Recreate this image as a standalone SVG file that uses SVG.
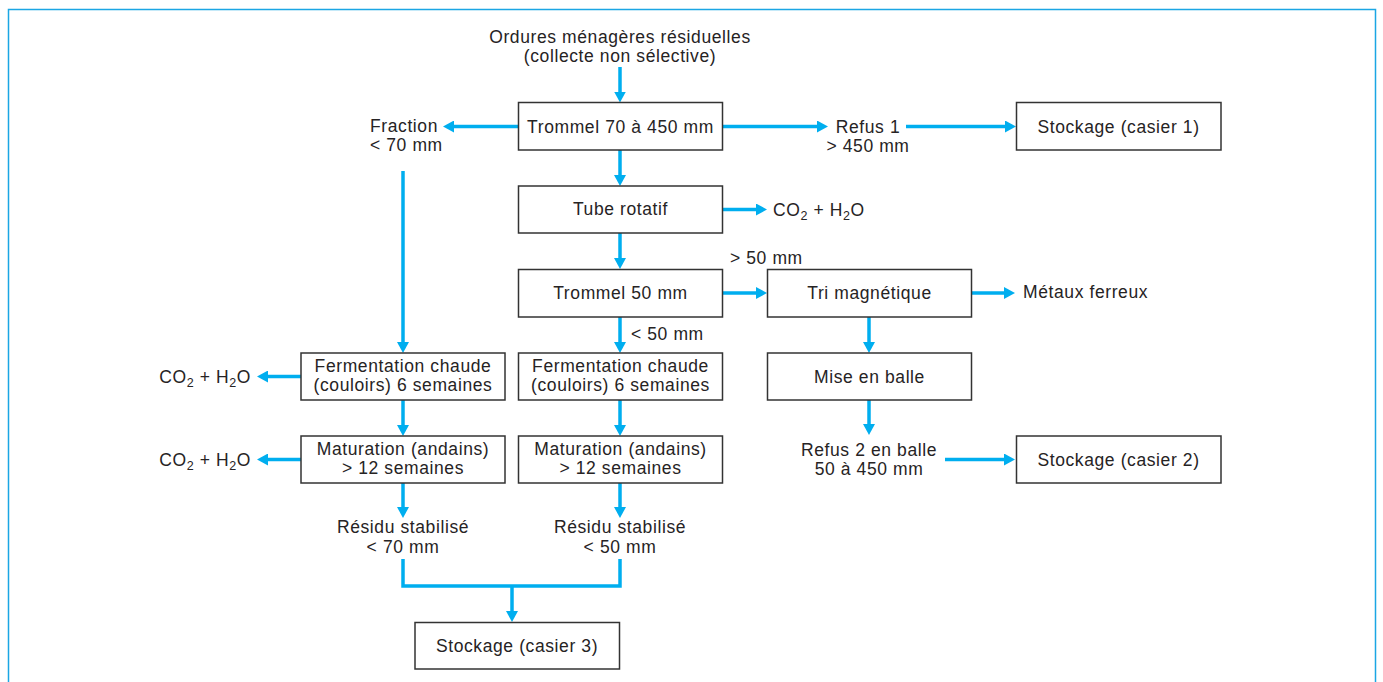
<svg xmlns="http://www.w3.org/2000/svg" width="1383" height="682" viewBox="0 0 1383 682">
  <style>
    text { font-family: "Liberation Sans", Arial, sans-serif; font-size: 17.5px; fill: #262324; letter-spacing: 0.6px; }
    .c { text-anchor: middle; }
    .e { text-anchor: end; }
    .box { fill: #ffffff; stroke: #333333; stroke-width: 1.5; }
    .flow { fill: none; stroke: #00aeef; stroke-width: 3.5; }
    .arr { marker-end: url(#head); }
    .sub { font-size: 12.5px; }
  </style>
  <defs>
    <marker id="head" markerUnits="userSpaceOnUse" markerWidth="12" markerHeight="12" refX="5" refY="6" orient="auto">
      <path d="M0,0 L11,6 L0,12 z" fill="#00aeef"/>
    </marker>
  </defs>

  <rect width="1383" height="682" fill="#ffffff"/>
  <!-- frame -->
  <path d="M8.5,682 V9.5 H1375.5 V682" fill="none" stroke="#1ba6e4" stroke-width="1.5"/>

  <!-- connectors -->
  <g id="connectors">
    <path class="flow arr" d="M620,67 V96.5"/>
    <path class="flow arr" d="M518,126.5 H449"/>
    <path class="flow arr" d="M722,126.5 H822"/>
    <path class="flow arr" d="M906,126.5 H1010"/>
    <path class="flow arr" d="M620,150 V180"/>
    <path class="flow arr" d="M722,209.5 H761"/>
    <path class="flow arr" d="M620,233 V263"/>
    <path class="flow arr" d="M722,293 H761"/>
    <path class="flow arr" d="M971,293 H1009"/>
    <path class="flow arr" d="M620,317 V347"/>
    <path class="flow arr" d="M869,317 V347"/>
    <path class="flow arr" d="M869,400 V429"/>
    <path class="flow arr" d="M945,459.5 H1009"/>
    <path class="flow arr" d="M403,171 V347"/>
    <path class="flow arr" d="M301,376.5 H263"/>
    <path class="flow arr" d="M301,459.5 H263"/>
    <path class="flow arr" d="M403,400 V430"/>
    <path class="flow arr" d="M620,400 V430"/>
    <path class="flow arr" d="M403,483 V512"/>
    <path class="flow arr" d="M620,483 V512"/>
    <path class="flow" d="M403,559 V586 H620 V559"/>
    <path class="flow arr" d="M512,586 V616"/>
  </g>

  <!-- free labels -->
  <g id="source">
    <text class="c" x="620" y="43">Ordures ménagères résiduelles</text>
    <text class="c" x="620" y="62">(collecte non sélective)</text>
  </g>
  <g id="fraction70">
    <text x="370" y="132">Fraction</text>
    <text x="370" y="151">&lt; 70 mm</text>
  </g>
  <g id="refus1">
    <text class="c" x="868" y="132.5">Refus 1</text>
    <text class="c" x="868" y="151.5">&gt; 450 mm</text>
  </g>
  <g id="gas-tube">
    <text x="773" y="215.5">CO<tspan class="sub" dy="4">2</tspan><tspan dy="-4"> + H</tspan><tspan class="sub" dy="4">2</tspan><tspan dy="-4">O</tspan></text>
  </g>
  <g id="label-gt50">
    <text x="730" y="264">&gt; 50 mm</text>
  </g>
  <g id="label-lt50">
    <text x="631" y="340">&lt; 50 mm</text>
  </g>
  <g id="metaux">
    <text x="1023" y="298">Métaux ferreux</text>
  </g>
  <g id="refus2">
    <text class="c" x="869" y="455.5">Refus 2 en balle</text>
    <text class="c" x="869" y="474.5">50 à 450 mm</text>
  </g>
  <g id="gas-ferm">
    <text class="e" x="251" y="382.5">CO<tspan class="sub" dy="4">2</tspan><tspan dy="-4"> + H</tspan><tspan class="sub" dy="4">2</tspan><tspan dy="-4">O</tspan></text>
  </g>
  <g id="gas-mat">
    <text class="e" x="251" y="465.5">CO<tspan class="sub" dy="4">2</tspan><tspan dy="-4"> + H</tspan><tspan class="sub" dy="4">2</tspan><tspan dy="-4">O</tspan></text>
  </g>
  <g id="residu70">
    <text class="c" x="403" y="533">Résidu stabilisé</text>
    <text class="c" x="403" y="552.5">&lt; 70 mm</text>
  </g>
  <g id="residu50">
    <text class="c" x="620" y="533">Résidu stabilisé</text>
    <text class="c" x="620" y="552.5">&lt; 50 mm</text>
  </g>

  <!-- process boxes -->
  <g id="trommel70">
    <rect class="box" x="518.5" y="102.5" width="204" height="47.5"/>
    <text class="c" x="620.5" y="132.5">Trommel 70 à 450 mm</text>
  </g>
  <g id="stockage1">
    <rect class="box" x="1016.5" y="102.5" width="204.5" height="47.5"/>
    <text class="c" x="1118.5" y="132.5">Stockage (casier 1)</text>
  </g>
  <g id="tube">
    <rect class="box" x="518.5" y="186" width="204" height="47"/>
    <text class="c" x="620.5" y="215">Tube rotatif</text>
  </g>
  <g id="trommel50">
    <rect class="box" x="518.5" y="269.5" width="204" height="47.5"/>
    <text class="c" x="620.5" y="299">Trommel 50 mm</text>
  </g>
  <g id="tri">
    <rect class="box" x="767.5" y="269.5" width="204" height="47.5"/>
    <text class="c" x="869.5" y="299">Tri magnétique</text>
  </g>
  <g id="balle">
    <rect class="box" x="767.5" y="353" width="204" height="47"/>
    <text class="c" x="869.5" y="382.5">Mise en balle</text>
  </g>
  <g id="stockage2">
    <rect class="box" x="1016.5" y="436" width="204.5" height="47"/>
    <text class="c" x="1118.5" y="465.5">Stockage (casier 2)</text>
  </g>
  <g id="ferm-left">
    <rect class="box" x="301" y="353" width="204" height="47"/>
    <text class="c" x="403" y="371.5">Fermentation chaude</text>
    <text class="c" x="403" y="390.5">(couloirs) 6 semaines</text>
  </g>
  <g id="ferm-right">
    <rect class="box" x="518.5" y="353" width="204" height="47"/>
    <text class="c" x="620.5" y="371.5">Fermentation chaude</text>
    <text class="c" x="620.5" y="390.5">(couloirs) 6 semaines</text>
  </g>
  <g id="mat-left">
    <rect class="box" x="301" y="436" width="204" height="47"/>
    <text class="c" x="403" y="455">Maturation (andains)</text>
    <text class="c" x="403" y="474">&gt; 12 semaines</text>
  </g>
  <g id="mat-right">
    <rect class="box" x="518.5" y="436" width="204" height="47"/>
    <text class="c" x="620.5" y="455">Maturation (andains)</text>
    <text class="c" x="620.5" y="474">&gt; 12 semaines</text>
  </g>
  <g id="stockage3">
    <rect class="box" x="415" y="622.5" width="204.5" height="46.5"/>
    <text class="c" x="517" y="652">Stockage (casier 3)</text>
  </g>
</svg>
